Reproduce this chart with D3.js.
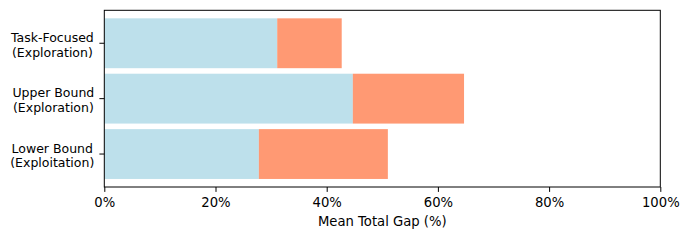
<!DOCTYPE html>
<html><head><meta charset="utf-8">
<script src="https://cdn.jsdelivr.net/npm/d3@7"></script>
<style>body{margin:0;background:#fff}svg{display:block}</style>
</head><body>
<svg id="c" width="690" height="240"></svg>
<script>
const categories = ["Task-Focused\n(Exploration)", "Upper Bound\n(Exploration)", "Lower Bound\n(Exploitation)"];
const seriesA = [31.1, 44.7, 27.8];   // blue segment
const seriesB = [11.6, 20.0, 23.2];   // orange segment
const xTicks = [0, 20, 40, 60, 80, 100];
const xLabel = "Mean Total Gap (%)";

const svg = d3.select("#c");
const L = 104.3, R = 660.3, T = 10.3, B = 187;
const x = d3.scaleLinear().domain([0, 100]).range([L, R]);
const y = d3.scaleLinear().domain([-0.595, 2.595]).range([B, T]);
const idx = categories.map((c, i) => 2 - i);
const h = 0.9;

const g = svg.append("g");
categories.forEach((c, i) => {
  const p = idx[i];
  g.append("rect").attr("x", x(0)).attr("y", y(p + h/2))
    .attr("width", x(seriesA[i]) - x(0)).attr("height", y(p - h/2) - y(p + h/2))
    .attr("fill", "#ADD8E6").attr("fill-opacity", 0.8);
  g.append("rect").attr("x", x(seriesA[i])).attr("y", y(p + h/2))
    .attr("width", x(seriesA[i] + seriesB[i]) - x(seriesA[i])).attr("height", y(p - h/2) - y(p + h/2))
    .attr("fill", "#FF7F50").attr("fill-opacity", 0.8);
});

svg.append("rect").attr("x", L).attr("y", T).attr("width", R - L).attr("height", B - T)
  .attr("fill", "none").attr("stroke", "#000").attr("stroke-width", 1);

const font = "DejaVu Sans, sans-serif";
const xa = svg.append("g").attr("transform", `translate(0,${B})`)
  .call(d3.axisBottom(x).tickValues(xTicks).tickFormat(d => d + "%").tickSize(4.9).tickPadding(5.5));
xa.select(".domain").remove();
xa.selectAll("line").attr("stroke", "#000");
xa.selectAll("text").attr("font-family", font).attr("font-size", 13.2).attr("fill", "#000");

categories.forEach((c, i) => {
  const yy = y(idx[i]);
  svg.append("line").attr("x1", L - 4.9).attr("x2", L).attr("y1", yy).attr("y2", yy).attr("stroke", "#000");
  const lines = c.split("\n");
  const t = svg.append("text").attr("x", L - 10).attr("y", yy).attr("text-anchor", "middle")
    .attr("font-family", font).attr("font-size", 12.5).attr("fill", "#000");
  lines.forEach((ln, k) => {
    t.append("tspan").attr("x", 0).attr("y", yy + (k - (lines.length - 1) / 2) * 14.5 + 6).text(ln);
  });
  const bb = t.node().getBBox();
  t.selectAll("tspan").attr("x", L - 10 - bb.width / 2);
});

svg.append("text").attr("x", (L + R) / 2).attr("y", 226).attr("text-anchor", "middle")
  .attr("font-family", font).attr("font-size", 13.2).attr("fill", "#000").text(xLabel);
</script>
</body></html>
